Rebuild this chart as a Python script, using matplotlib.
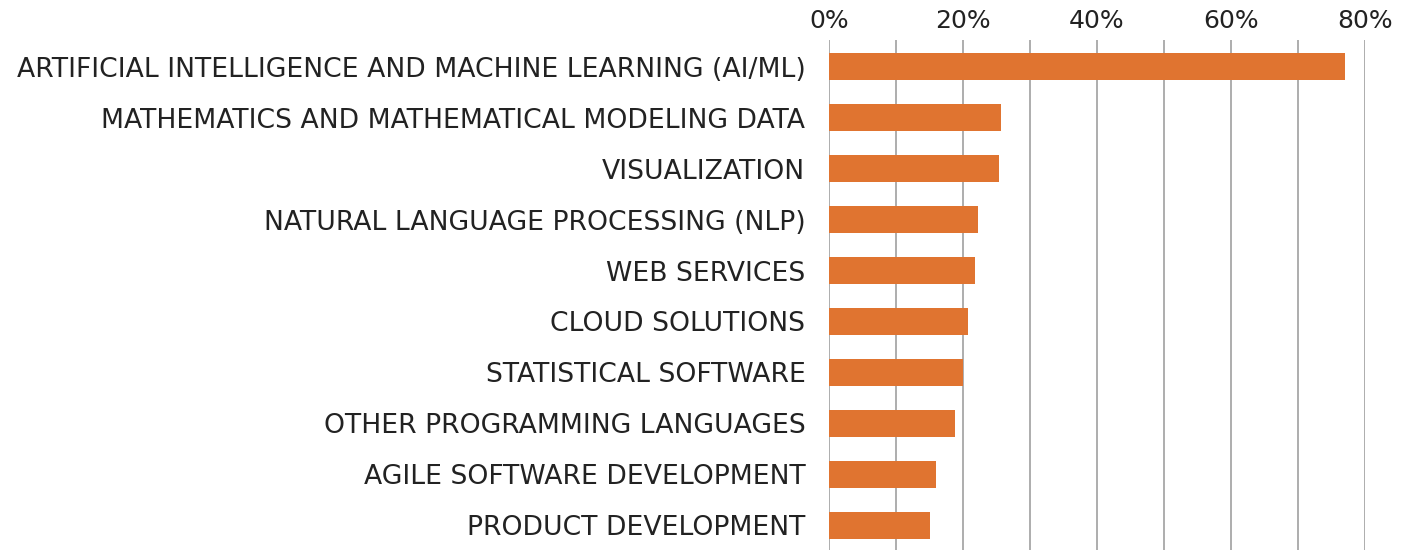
import numpy as np
import matplotlib
matplotlib.use("Agg")
import matplotlib.pyplot as plt
from matplotlib.ticker import MultipleLocator, FuncFormatter

# chart data
skills = [
	"ARTIFICIAL INTELLIGENCE AND MACHINE LEARNING (AI/ML)",
	"MATHEMATICS AND MATHEMATICAL MODELING DATA",
	"VISUALIZATION",
	"NATURAL LANGUAGE PROCESSING (NLP)",
	"WEB SERVICES",
	"CLOUD SOLUTIONS",
	"STATISTICAL SOFTWARE",
	"OTHER PROGRAMMING LANGUAGES",
	"AGILE SOFTWARE DEVELOPMENT",
	"PRODUCT DEVELOPMENT",
]
shares = [77.0, 25.7, 25.4, 22.2, 21.8, 20.7, 20.0, 18.8, 15.9, 15.1]
xticks = [0, 20, 40, 60, 80]

barColor = "#E07430"
gridColor = "#A0A0A0"

plt.rcParams['font.family'] = ['DejaVu Sans']

fig = plt.figure(figsize=(14.13, 5.5), dpi=100)
ax = fig.add_axes([829/1413, 0.0, (1365-829)/1413, 1 - 40/550])

y = np.arange(len(skills))
ax.barh(y, shares, height=0.53, color=barColor, zorder=3)

ax.set_xlim(0, 80)
ax.set_ylim(len(skills) - 1 + 0.49, -0.53)
ax.set_yticks(y)
ax.set_yticklabels(skills, fontsize=19.2, color="#222222")
ax.set_xticks(xticks)
ax.xaxis.set_minor_locator(MultipleLocator(10))
ax.xaxis.set_major_formatter(FuncFormatter(lambda v, p: "%d%%" % v))
ax.xaxis.tick_top()
ax.tick_params(axis='x', labelsize=18, labelcolor="#222222", length=0, pad=5, which='both')
ax.tick_params(axis='y', length=0, pad=17)

ax.grid(axis='x', which='both', color=gridColor, linewidth=1.2, zorder=0)
for s in ax.spines.values():
	s.set_visible(False)

fig.savefig("out.png", dpi=100)
